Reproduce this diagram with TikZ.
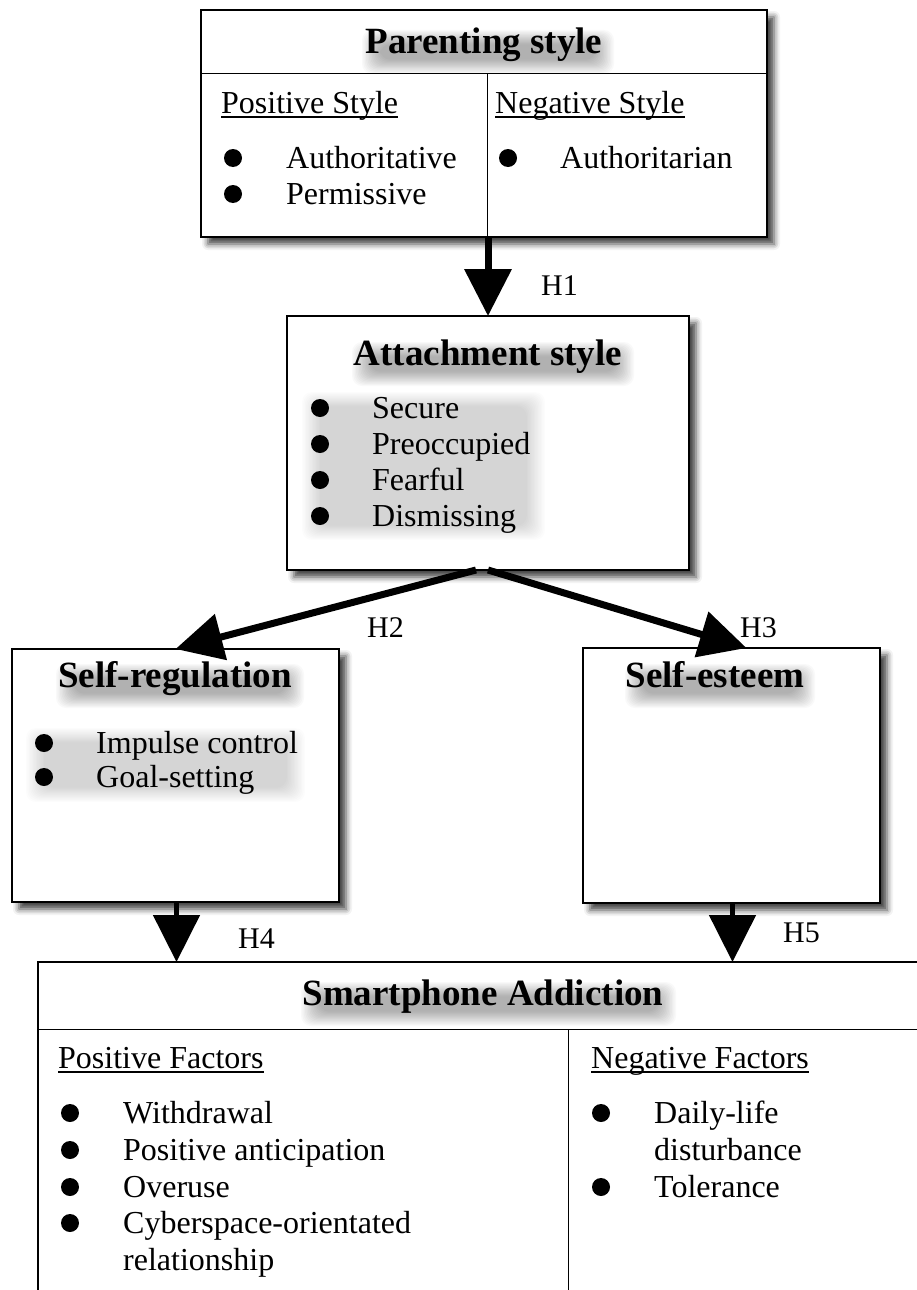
\documentclass[tikz,border=0pt]{standalone}
\usepackage{fontspec}
\setmainfont{Liberation Serif}
\usetikzlibrary{arrows.meta,shadows.blur}
\newcommand\softglow[5]{% x1 y1 x2 y2 opacity
  \foreach \k in {0,...,13}{%
    \fill[black, opacity=#5, rounded corners=10pt]
      ({#1+1.4*\k},{#2+1.1*\k}) rectangle ({#3-1.4*\k},{#4-1.1*\k});
  }}
\begin{document}
\begin{tikzpicture}[x=1pt,y=-1pt,
  box/.style={draw=black, fill=white, line width=1.4pt, rectangle, inner sep=0pt, outer sep=0pt, anchor=north west,
     blur shadow={shadow xshift=7pt, shadow yshift=-7pt, shadow opacity=75, shadow blur radius=6pt}},
  divider/.style={line width=1pt},
  ttl/.style={font=\fontsize{37}{40}\selectfont\bfseries, inner sep=0pt, anchor=base},
  txt/.style={font=\fontsize{32}{37}\selectfont, inner sep=0pt, anchor=base west},
  hl/.style={font=\fontsize{30}{34}\selectfont, inner sep=0pt, anchor=base west},
  bul/.style={circle, fill=black, inner sep=0pt, minimum size=18pt},
  arr/.style={line width=7pt, -{Triangle[length=47pt,width=46pt]}},
  arrthin/.style={line width=5pt, -{Triangle[length=47pt,width=46pt]}},
  uline/.style={line width=1.2pt}
]
\useasboundingbox (0,0) rectangle (917,1290);
\clip (0,0) rectangle (917,1290);

% ---------- boxes ----------
\node[box, minimum width=566pt, minimum height=227pt] (ps) at (201,10) {};
\node[box, minimum width=402pt, minimum height=254pt] (att) at (287,316) {};
\node[box, minimum width=327pt, minimum height=253pt] (sr) at (12,649) {};
\node[box, minimum width=297pt, minimum height=255pt] (se) at (583,648) {};
\node[box, minimum width=960pt, minimum height=400pt] (sa) at (38,962) {};

% ---------- dividers ----------
\draw[divider] (201,74) -- (767,74);
\draw[divider] (487,74) -- (487,237);
\draw[divider] (38,1029) -- (1000,1029);
\draw[divider] (568,1029) -- (568,1362);

% ---------- soft text shadows ----------
\softglow{362}{30}{614}{74}{0.024}
\softglow{352}{342}{634}{386}{0.024}
\softglow{56}{664}{304}{708}{0.024}
\softglow{625}{664}{815}{708}{0.024}
\softglow{301}{982}{676}{1026}{0.024}
\softglow{302}{392}{545}{540}{0.012}
\softglow{26}{728}{305}{802}{0.012}

% ---------- connectors ----------
\draw[arr] (att.north |- ps.south) -- (att.north);
\draw[arr] ([xshift=-12pt]att.south) -- (sr.north);
\draw[arr] (att.south) -- ([xshift=15pt]se.north);
\draw[arrthin] ([xshift=1pt]sr.south) -- ([xshift=1pt]sr.south |- sa.north);
\draw[arrthin] ([xshift=1pt]se.south) -- ([xshift=1pt]se.south |- sa.north);

\node[hl] (h1) at (541,295) {H1};
\node[hl] (h2) at (367,637) {H2};
\node[hl] (h3) at (740,637) {H3};
\node[hl] (h4) at (238,948) {H4};
\node[hl] (h5) at (783,942) {H5};

% ---------- Parenting style ----------
\node[ttl] (pst) at (484,53) {Parenting style};
\node[txt] (pos) at (221,113) {Positive Style};
\draw[uline] ([yshift=-4pt]pos.base west) -- ([yshift=-4pt]pos.base east);
\node[txt] (neg) at (495,113) {Negative Style};
\draw[uline] ([yshift=-4pt]neg.base west) -- ([yshift=-4pt]neg.base east);
\node[bul] (pb1) at (233,158) {};
\node[txt] (pt1) at (286,168) {Authoritative};
\node[bul] (pb2) at (233,194) {};
\node[txt] (pt2) at (286,204) {Permissive};
\node[bul] (nb1) at (508,158) {};
\node[txt] (nt1) at (560,168) {Authoritarian};

% ---------- Attachment style ----------
\node[ttl] (att-t) at (488,365) {Attachment style};
\node[bul] (ab1) at (320,408) {};
\node[txt] (at1) at (372,418) {Secure};
\node[bul] (ab2) at (320,444) {};
\node[txt] (at2) at (372,454) {Preoccupied};
\node[bul] (ab3) at (320,480) {};
\node[txt] (at3) at (372,490) {Fearful};
\node[bul] (ab4) at (320,516) {};
\node[txt] (at4) at (372,526) {Dismissing};

% ---------- Self-regulation ----------
\node[ttl] (sr-t) at (175,687) {Self-regulation};
\node[bul] (sb1) at (44,743) {};
\node[txt] (st1) at (96,753) {Impulse control};
\node[bul] (sb2) at (44,777) {};
\node[txt] (st2) at (96,787) {Goal-setting};

% ---------- Self-esteem ----------
\node[ttl] (se-t) at (715,687) {Self-esteem};

% ---------- Smartphone Addiction ----------
\node[ttl] (sa-t) at (483,1005) {Smartphone Addiction};
\node[txt] (pf) at (58,1068) {Positive Factors};
\draw[uline] ([yshift=-4pt]pf.base west) -- ([yshift=-4pt]pf.base east);
\node[txt] (nf) at (591,1068) {Negative Factors};
\draw[uline] ([yshift=-4pt]nf.base west) -- ([yshift=-4pt]nf.base east);
\node[bul] (fb1) at (70,1113) {};
\node[txt] (ft1) at (123,1123) {Withdrawal};
\node[bul] (fb2) at (70,1150) {};
\node[txt] (ft2) at (123,1160) {Positive anticipation};
\node[bul] (fb3) at (70,1187) {};
\node[txt] (ft3) at (123,1197) {Overuse};
\node[bul] (fb4) at (70,1223) {};
\node[txt] (ft4) at (123,1233) {Cyberspace-orientated};
\node[txt] (ft5) at (123,1270) {relationship};
\node[bul] (gb1) at (601,1113) {};
\node[txt] (gt1) at (654,1123) {Daily-life};
\node[txt] (gt2) at (654,1160) {disturbance};
\node[bul] (gb2) at (601,1187) {};
\node[txt] (gt3) at (654,1197) {Tolerance};
\end{tikzpicture}
\end{document}
